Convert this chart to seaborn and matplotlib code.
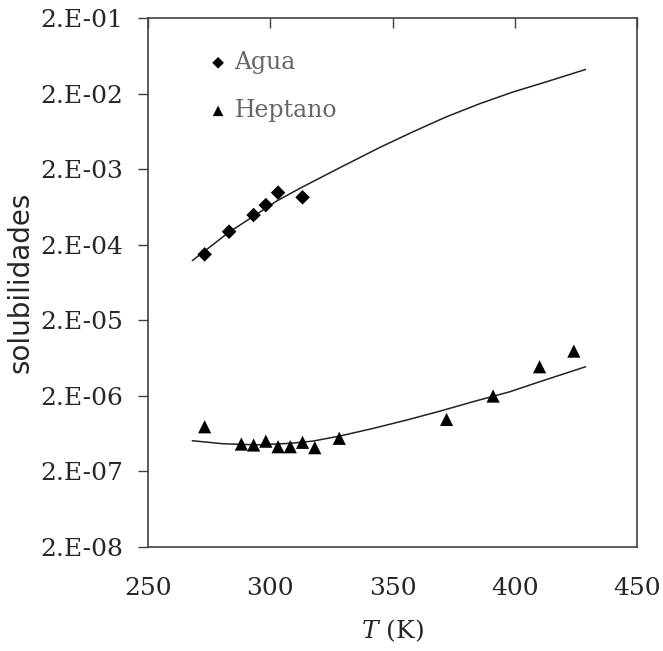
import matplotlib
matplotlib.use("Agg")
import matplotlib.pyplot as plt
import seaborn as sns
import pandas as pd
from matplotlib.ticker import FixedLocator, FixedFormatter, NullLocator

# Experimental data
T_agua = [273.15, 283.15, 293.15, 298.15, 303.15, 313.15]
s_agua = [1.49e-4, 2.98e-4, 4.95e-4, 6.7e-4, 9.8e-4, 8.5e-4]

T_hept = [273.15, 288.15, 293.15, 298.15, 303.15, 308.15, 313.15, 318.15, 328.15,
          372.0, 391.0, 410.0, 424.0]
s_hept = [7.76e-7, 4.58e-7, 4.45e-7, 5.0e-7, 4.22e-7, 4.22e-7, 4.83e-7, 4.1e-7, 5.46e-7,
          9.7e-7, 1.98e-6, 4.84e-6, 7.8e-6]

# Model curves
T_fit_agua = [268.1, 282.8, 292.8, 302.6, 312.1, 328.4, 344.8, 358.4, 372.0, 385.6, 399.3, 412.9, 428.8]
s_fit_agua = [1.23e-4, 2.89e-4, 4.70e-4, 7.6e-4, 1.12e-3, 2.1e-3, 3.9e-3, 6.3e-3, 9.93e-3,
              1.48e-2, 2.12e-2, 2.89e-2, 4.2e-2]
T_fit_hept = [268.1, 280.8, 294.4, 308.0, 317.5, 328.4, 342.1, 355.7, 369.3, 382.9, 397.9, 410.1, 428.8]
s_fit_hept = [5.07e-7, 4.62e-7, 4.47e-7, 4.68e-7, 5.02e-7, 5.85e-7, 7.40e-7, 9.53e-7, 1.25e-6,
              1.67e-6, 2.26e-6, 3.07e-6, 4.84e-6]

y_ticks = [2e-8, 2e-7, 2e-6, 2e-5, 2e-4, 2e-3, 2e-2, 2e-1]
y_labels = ["2.E-08", "2.E-07", "2.E-06", "2.E-05", "2.E-04", "2.E-03", "2.E-02", "2.E-01"]
x_ticks = [250, 300, 350, 400, 450]

sns.set_style("white")
plt.rcParams["font.family"] = ["DejaVu Serif"]
plt.rcParams["mathtext.fontset"] = "dejavuserif"

fig = plt.figure(figsize=(6.63, 6.51), dpi=100)
ax = fig.add_axes([0.2232, 0.1602, 0.7383, 0.8117])

df_a = pd.DataFrame({"T": T_agua, "s": s_agua})
df_h = pd.DataFrame({"T": T_hept, "s": s_hept})
df_fa = pd.DataFrame({"T": T_fit_agua, "s": s_fit_agua})
df_fh = pd.DataFrame({"T": T_fit_hept, "s": s_fit_hept})

sns.lineplot(data=df_fa, x="T", y="s", ax=ax, color="#222222", lw=1.1, legend=False, sort=True)
sns.lineplot(data=df_fh, x="T", y="s", ax=ax, color="#222222", lw=1.1, legend=False, sort=True)
sns.scatterplot(data=df_a, x="T", y="s", ax=ax, marker="D", s=55, color="black",
                edgecolor="none", label="Agua", zorder=3)
sns.scatterplot(data=df_h, x="T", y="s", ax=ax, marker="^", s=90, color="black",
                edgecolor="none", label="Heptano", zorder=3)

ax.set_yscale("log")
ax.set_xlim(250, 450)
ax.set_ylim(2e-8, 2e-1)
ax.yaxis.set_major_locator(FixedLocator(y_ticks))
ax.yaxis.set_major_formatter(FixedFormatter(y_labels))
ax.yaxis.set_minor_locator(NullLocator())
ax.xaxis.set_major_locator(FixedLocator(x_ticks))

ax.tick_params(axis="y", direction="out", length=7, width=1, color="#404040",
               labelsize=18, pad=11, left=True)
ax.tick_params(axis="x", direction="in", length=7, width=1, color="#404040",
               labelsize=18, pad=22, top=True, bottom=False, labelbottom=True)

for sp in ax.spines.values():
    sp.set_color("#404040")
    sp.set_linewidth(1.2)
    sp.set_visible(True)

ax.set_xlabel(r"$T$ (K)", fontsize=18, labelpad=12)
ax.set_ylabel("solubilidades", fontsize=20, family=["DejaVu Sans"], labelpad=4)

leg = ax.legend(loc="upper left", bbox_to_anchor=(0.095, 0.956), frameon=False,
                fontsize=17, labelspacing=1.06, handletextpad=0.1, handlelength=1.2,
                markerscale=0.8, borderaxespad=0)
for t in leg.get_texts():
    t.set_color("#666666")

fig.savefig("out.png", dpi=100)
